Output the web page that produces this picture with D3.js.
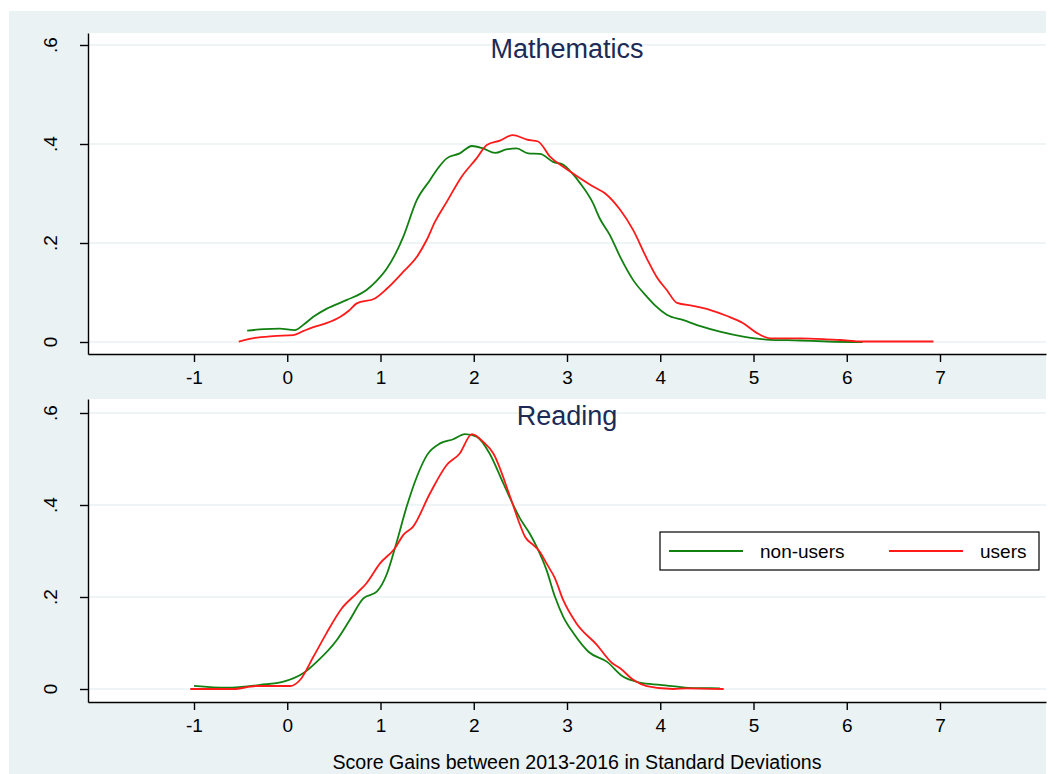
<!DOCTYPE html>
<html>
<head>
<meta charset="utf-8">
<script src="https://cdn.jsdelivr.net/npm/d3@7"></script>
<style>
  body { margin: 0; background: #fff; }
  svg { display: block; font-family: "Liberation Sans", Arial, sans-serif; }
</style>
</head>
<body>
<script>
// tick values and labels
const xTicks = [-1, 0, 1, 2, 3, 4, 5, 6, 7];
const xTickLabels = ["-1", "0", "1", "2", "3", "4", "5", "6", "7"];
const yTicks = [0, 0.2, 0.4, 0.6];
const yTickLabels = ["0", ".2", ".4", ".6"];
const panelTitles = ["Mathematics", "Reading"];
const seriesNames = ["non-users", "users"];
const xTitle = "Score Gains between 2013-2016 in Standard Deviations";

// kernel densities: [score gain, density]
const mathNonUsers = [[-0.43,0.023],[-0.25,0.026],[-0.08,0.027],[0.08,0.024],[0.18,0.036],[0.28,0.051],[0.42,0.067],[0.64,0.085],[0.85,0.105],[0.95,0.122],[1.07,0.149],[1.16,0.178],[1.245,0.213],[1.39,0.287],[1.53,0.327],[1.62,0.352],[1.71,0.371],[1.85,0.381],[1.98,0.396],[2.10,0.391],[2.23,0.382],[2.35,0.389],[2.46,0.391],[2.585,0.381],[2.71,0.380],[2.85,0.364],[2.96,0.358],[3.05,0.342],[3.14,0.321],[3.28,0.280],[3.35,0.250],[3.46,0.216],[3.57,0.172],[3.71,0.125],[3.855,0.092],[3.95,0.073],[4.07,0.055],[4.25,0.044],[4.43,0.032],[4.64,0.021],[4.89,0.011],[5.14,0.005],[5.5,0.003],[5.8,0.001],[6.17,0]];
const mathUsers = [[-0.52,0.001],[-0.36,0.008],[-0.15,0.012],[0.065,0.014],[0.17,0.022],[0.28,0.030],[0.42,0.038],[0.57,0.051],[0.66,0.063],[0.745,0.078],[0.94,0.088],[1.07,0.108],[1.245,0.142],[1.39,0.172],[1.495,0.206],[1.585,0.243],[1.71,0.283],[1.87,0.334],[2.03,0.371],[2.14,0.398],[2.28,0.407],[2.42,0.418],[2.57,0.409],[2.69,0.405],[2.82,0.374],[2.96,0.354],[3.14,0.331],[3.28,0.314],[3.41,0.300],[3.57,0.267],[3.71,0.226],[3.855,0.169],[3.96,0.132],[4.07,0.105],[4.18,0.079],[4.35,0.073],[4.53,0.065],[4.71,0.053],[4.89,0.038],[5.03,0.019],[5.18,0.0075],[5.5,0.0075],[5.75,0.006],[5.93,0.004],[6.17,0.001],[6.93,0.001]];
const readNonUsers = [[-1.0,0.007],[-0.65,0.003],[-0.29,0.009],[-0.04,0.016],[0.17,0.034],[0.316,0.059],[0.53,0.106],[0.67,0.15],[0.816,0.197],[0.96,0.2115],[1.07,0.251],[1.17,0.317],[1.28,0.396],[1.39,0.4615],[1.50,0.509],[1.64,0.534],[1.78,0.543],[1.906,0.554],[2.03,0.5485],[2.17,0.512],[2.317,0.447],[2.496,0.371],[2.60,0.338],[2.675,0.309],[2.78,0.259],[2.87,0.201],[2.96,0.157],[3.07,0.121],[3.23,0.081],[3.43,0.059],[3.60,0.027],[3.78,0.014],[4.0,0.009],[4.18,0.005],[4.355,0.002],[4.64,0.0015]];
const readUsers = [[-1.04,0],[-0.58,0],[-0.33,0.0065],[0.03,0.0065],[0.137,0.0196],[0.28,0.070],[0.42,0.121],[0.584,0.175],[0.745,0.208],[0.85,0.23],[0.995,0.273],[1.155,0.306],[1.245,0.335],[1.35,0.353],[1.53,0.425],[1.71,0.487],[1.85,0.512],[1.98,0.554],[2.10,0.5375],[2.21,0.512],[2.39,0.418],[2.496,0.357],[2.55,0.331],[2.64,0.313],[2.71,0.298],[2.78,0.273],[2.87,0.241],[2.96,0.193],[3.10,0.143],[3.32,0.096],[3.48,0.057],[3.57,0.045],[3.71,0.020],[3.855,0.0065],[4.14,0],[4.28,0.0015],[4.68,0]];

var W = 1054, H = 774;
var colors = ["#118011", "#ff1a1a"];
var bg = "#eaf2f3";
var left = 88, right = 1046;

var svg = d3.select("body").append("svg")
    .attr("width", W)
    .attr("height", H);

svg.append("rect")
    .attr("x", 9).attr("y", 11)
    .attr("width", right - 9).attr("height", H - 11)
    .attr("fill", bg);

// x: -1 sits at 194px, 7 at 940px; axis spans the full plot width
var xBase = d3.scaleLinear().domain([-1, 7]).range([194, 940]);
var x = d3.scaleLinear()
    .domain([xBase.invert(left), xBase.invert(right)])
    .range([left, right]);

var panels = [
    {title: panelTitles[0], series: [mathNonUsers, mathUsers], top: 33, bottom: 354, y0: 342, y6: 45, titleY: 58},
    {title: panelTitles[1], series: [readNonUsers, readUsers], top: 399, bottom: 702, y0: 689, y6: 413, titleY: 425}
];

panels.forEach((p, i) => {
    var yBase = d3.scaleLinear().domain([0, 0.6]).range([p.y0, p.y6]);
    var y = d3.scaleLinear()
        .domain([yBase.invert(p.bottom), yBase.invert(p.top)])
        .range([p.bottom, p.top]);

    var g = svg.append("g");

    g.append("rect")
        .attr("x", left).attr("y", p.top)
        .attr("width", right - left).attr("height", p.bottom - p.top)
        .attr("fill", "#fff");

    // gridlines
    g.selectAll(".grid")
        .data(yTicks)
        .enter().append("line")
        .attr("x1", left).attr("x2", right)
        .attr("y1", d => y(d)).attr("y2", d => y(d))
        .attr("stroke", bg)
        .attr("stroke-width", 1.6);

    var line = d3.line()
        .x(d => x(d[0]))
        .y(d => y(d[1]))
        .curve(d3.curveMonotoneX);

    p.series.forEach((s, k) => {
        g.append("path")
            .datum(s)
            .attr("d", line)
            .attr("fill", "none")
            .attr("stroke", colors[k])
            .attr("stroke-width", 1.8)
            .attr("stroke-linejoin", "round");
    });

    var xAxis = d3.axisBottom(x)
        .tickValues(xTicks)
        .tickSize(8)
        .tickSizeOuter(0)
        .tickPadding(9)
        .tickFormat((d, j) => xTickLabels[j]);

    var gx = g.append("g")
        .attr("transform", `translate(0, ${p.bottom})`)
        .call(xAxis);
    gx.selectAll("text")
        .attr("font-size", 19)
        .attr("font-family", "Liberation Sans, Arial, sans-serif")
        .attr("fill", "#000");

    var yAxis = d3.axisLeft(y)
        .tickValues(yTicks)
        .tickSize(8)
        .tickSizeOuter(0)
        .tickFormat("");

    g.append("g")
        .attr("transform", `translate(${left}, 0)`)
        .call(yAxis);

    svg.selectAll("path.domain, .tick line")
        .attr("stroke", "#000")
        .attr("stroke-width", 1.4);

    g.selectAll(".ylab")
        .data(yTicks)
        .enter().append("text")
        .attr("transform", d => `translate(57, ${y(d)}) rotate(-90)`)
        .attr("text-anchor", "middle")
        .attr("font-size", 19)
        .text((d, j) => yTickLabels[j]);

    g.append("text")
        .attr("x", (left + right) / 2)
        .attr("y", p.titleY)
        .attr("text-anchor", "middle")
        .attr("font-size", 27)
        .attr("fill", "#1c2a55")
        .text(p.title);
});

// legend inside the reading panel
var lg = svg.append("g");
lg.append("rect")
    .attr("x", 660).attr("y", 532)
    .attr("width", 379).attr("height", 38)
    .attr("fill", "#fff")
    .attr("stroke", "#000")
    .attr("stroke-width", 1.2);

var legendX = [669, 889];
seriesNames.forEach((name, k) => {
    lg.append("line")
        .attr("x1", legendX[k]).attr("x2", legendX[k] + 74)
        .attr("y1", 551).attr("y2", 551)
        .attr("stroke", colors[k])
        .attr("stroke-width", 1.8);
    lg.append("text")
        .attr("x", legendX[k] + 91)
        .attr("y", 558)
        .attr("font-size", 19)
        .text(name);
});

svg.append("text")
    .attr("x", 577)
    .attr("y", 769)
    .attr("text-anchor", "middle")
    .attr("font-size", 19.6)
    .text(xTitle);
</script>
</body>
</html>
